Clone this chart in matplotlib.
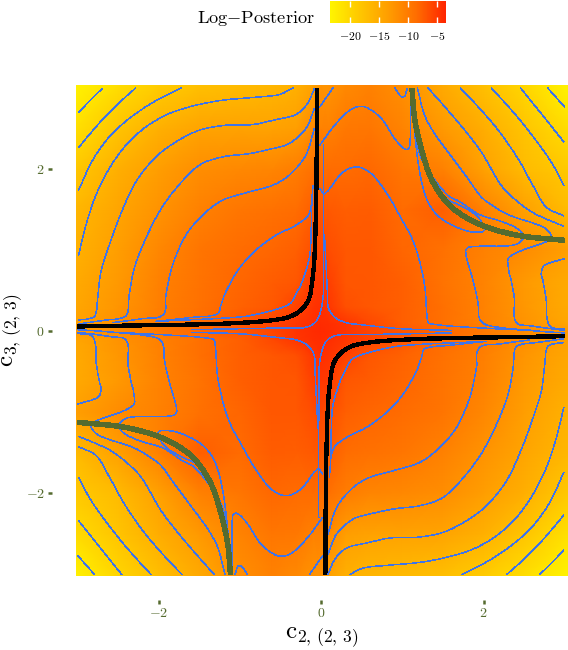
import numpy as np
import matplotlib
matplotlib.use("Agg")
import matplotlib.pyplot as plt
from matplotlib.colors import LinearSegmentedColormap, Normalize
from matplotlib.cm import ScalarMappable
from matplotlib.path import Path
from matplotlib.patches import PathPatch

plt.rcParams['mathtext.fontset'] = 'cm'
plt.rcParams['font.family'] = ['cmr10', 'DejaVu Serif']
plt.rcParams['axes.formatter.use_mathtext'] = True

# field values for y >= 0; the lower half is the same read by point symmetry
grid_x = [-3.05, -2.5, -2, -1.5, -1, -0.6, -0.3, -0.1, 0, 0.1, 0.3, 0.6, 1, 1.5, 2, 2.5, 3.05]
grid_y = [0, 0.1, 0.3, 0.6, 1, 1.5, 2, 2.5, 3.05]
row_0 = [-13, -11.5, -9.7, -8.2, -7, -5.8, -4.6, -4, -3.8, -4, -4.6, -5.8, -7, -8.2, -9.7, -11.5, -13]
row_01 = [-14, -12, -10, -8.6, -7, -5.6, -4.8, -4.2, -4, -4.2, -4.7, -6, -7.6, -8.9, -10.6, -12.4, -14.5]
row_03 = [-14.7, -12.6, -10.4, -9, -7.8, -7, -5.5, -4.6, -4.3, -4.8, -6.5, -7, -7.6, -8.9, -10.7, -12.8, -15]
row_06 = [-15, -13, -10.6, -9.2, -8, -7.4, -6.9, -5, -4.8, -5.4, -6.9, -7, -7.6, -9.2, -10.8, -13, -15]
row_10 = [-15.9, -13.5, -11.2, -9.4, -8.5, -8, -7.6, -6.5, -5.8, -6.3, -7, -7, -8, -9, -10.5, -11.7, -13.7]
row_15 = [-16.6, -14.3, -12.4, -10.5, -9.5, -9, -8.6, -7.5, -7, -7.2, -7.5, -7.4, -8.4, -7.5, -10.5, -13.7, -17]
row_20 = [-18.6, -15.5, -13.5, -11.9, -11.3, -10.9, -10.2, -9, -8.5, -8.5, -8.5, -8.2, -9.5, -10.5, -13.8, -16.9, -18.7]
row_25 = [-21.3, -18, -15.6, -14.2, -13.9, -14, -13.5, -11.5, -10.5, -10.5, -9.7, -9.5, -10.8, -13, -15.2, -18, -20.8]
row_30 = [-23.5, -21, -19, -17.7, -17, -16.5, -15.8, -14, -12.5, -12.5, -11.5, -10.7, -12, -15, -17.5, -20.2, -23.5]

# contour lines (x list, y list), each also drawn rotated by 180 degrees
contours = [
    ([-2.988, -2.857, -2.693], [2.70, 2.84, 3.0]),
    ([-2.988, -2.775, -2.529, -2.283], [2.267, 2.523, 2.782, 3.004]),
    ([-2.988, -2.816, -2.611, -2.365, -2.077, -1.725], [1.741, 2.111, 2.399, 2.626, 2.823, 3.004]),
    ([-2.988, -2.898, -2.775, -2.611, -2.406, -2.159, -1.872, -1.544, -1.216, -0.806, -0.518, -0.346],
     [0.938, 1.309, 1.679, 2.008, 2.296, 2.523, 2.687, 2.79, 2.852, 2.889, 2.922, 3.004]),
    ([-2.988, -2.857, -2.783, -2.754, -2.713, -2.611, -2.467, -2.283, -2.036, -1.790, -1.503, -1.175, -0.847, -0.559, -0.313, -0.170, -0.084],
     [0.140, 0.156, 0.198, 0.403, 0.733, 1.062, 1.453, 1.844, 2.152, 2.337, 2.481, 2.543, 2.551, 2.613, 2.675, 2.811, 2.996]),
    ([-2.988, -2.611, -2.488, -2.393, -2.365, -2.303, -2.180, -1.995, -1.790, -1.503, -1.216, -0.888, -0.600, -0.395, -0.190, -0.084],
     [0.091, 0.144, 0.156, 0.206, 0.444, 0.774, 1.103, 1.473, 1.761, 2.049, 2.152, 2.193, 2.255, 2.317, 2.502, 2.749]),
    ([-2.570, -2.2, -1.946, -1.913, -1.831, -1.667, -1.462, -1.216, -0.888, -0.600, -0.395, -0.190, -0.084],
     [0.107, 0.156, 0.206, 0.444, 0.815, 1.185, 1.432, 1.617, 1.720, 1.802, 1.926, 2.173, 2.502]),
    ([-2.036, -1.585, -1.277, -1.236, -1.175, -1.011, -0.806, -0.559, -0.313, -0.149, -0.100],
     [0.123, 0.173, 0.214, 0.321, 0.486, 0.774, 1.0, 1.185, 1.309, 1.453, 1.802]),
    # hugging the black curve
    ([-2.0, -1.003, -0.675, -0.388, -0.293, -0.244, -0.162, -0.133, -0.115],
     [0.125, 0.177, 0.239, 0.340, 0.494, 0.588, 0.835, 1.0, 1.6]),
    ([-1.6, -0.498, -0.252, -0.129, -0.047, 0.007, 0.027, 0.03],
     [0.02, 0.041, 0.041, 0.07, 0.144, 0.309, 0.494, 2.3]),
    # centre, upper right
    ([0.04, 0.076, 0.089, 0.179, 0.323, 0.487, 0.966, 1.6],
     [1.2, 0.494, 0.288, 0.165, 0.103, 0.082, 0.033, 0.012]),
    # top right quadrant
    ([2.79, 2.997], [3.004, 2.77]),
    ([2.455, 2.71, 2.989], [3.004, 2.687, 2.337]),
    ([2.094, 2.382, 2.628, 2.833, 2.989], [3.004, 2.687, 2.379, 2.09, 1.802]),
    ([1.713, 1.971, 2.197, 2.423, 2.607, 2.771, 2.989], [3.004, 2.73, 2.461, 2.132, 1.802, 1.535, 1.424]),
    ([1.315, 1.684, 1.972, 2.217, 2.423, 2.628, 2.989], [3.004, 2.584, 2.214, 1.802, 1.597, 1.453, 1.296]),
    ([1.184, 1.274, 1.397, 1.561, 1.807, 1.972, 2.136, 2.32, 2.73, 2.833, 2.81, 2.32, 2.31, 2.34, 2.38, 2.40, 2.59, 3.0],
     [3.004, 2.667, 2.440, 2.214, 1.885, 1.658, 1.535, 1.432, 1.288, 1.185, 1.124, 0.918, 0.753, 0.63, 0.403, 0.115, 0.066, 0.012]),
    ([1.12, 1.151, 1.233, 1.356, 1.561, 1.705, 1.951, 2.238, 2.444, 2.485, 2.36, 1.828, 1.779, 1.869, 1.93, 1.95, 2.05, 2.55, 3.0],
     [3.0, 2.461, 2.132, 1.926, 1.679, 1.6, 1.44, 1.35, 1.247, 1.144, 1.062, 1.041, 0.98, 0.63, 0.362, 0.156, 0.074, 0.012, -0.02]),
    ([3.0, 2.751, 2.71, 2.73, 2.77, 2.81, 2.997], [0.897, 0.815, 0.712, 0.63, 0.403, 0.074, 0.025]),
    ([1.12, 1.151, 1.213, 1.315, 1.479, 1.766, 1.972, 2.013, 1.91, 1.705, 1.55, 1.38, 1.26, 1.17, 1.13, 1.12],
     [3.0, 2.461, 1.967, 1.597, 1.391, 1.247, 1.226, 1.268, 1.432, 1.556, 1.63, 1.82, 2.1, 2.45, 2.8, 3.0]),
    # top middle
    ([-0.018, 0.146], [2.77, 3.004]),
    ([0.905, 1.007, 1.06], [3.004, 2.893, 2.996]),
    ([-0.018, 0.166, 0.371, 0.535, 0.741, 0.905, 1.036, 1.089, 1.1, 1.1],
     [2.296, 2.543, 2.741, 2.77, 2.626, 2.379, 2.247, 2.276, 2.79, 3.0]),
    ([-0.018, 0.043, 0.248, 0.433, 0.617, 0.823, 0.987, 1.11, 1.192, 1.274, 1.307, 1.335, 1.971, 2.6],
     [1.761, 1.7, 1.946, 2.029, 1.946, 1.679, 1.391, 1.165, 0.938, 0.568, 0.156, 0.095, 0.041, 0.012]),
]

black_x = [-3.0, -2.2, -1.298, -0.724, -0.436, -0.320, -0.231, -0.165, -0.129, -0.084, -0.059, -0.051]
black_y = [0.060, 0.074, 0.091, 0.123, 0.165, 0.212, 0.280, 0.370, 0.486, 0.897, 1.802, 3.0]
green_x = [1.118, 1.151, 1.233, 1.356, 1.561, 1.807, 2.094, 2.464, 3.0]
green_y = [3.0, 2.626, 2.255, 1.885, 1.576, 1.391, 1.267, 1.177, 1.123]

x_ticks = [-2, 0, 2]
y_ticks = [-2, 0, 2]
tick_labels = [r'$\mathsf{-2}$', r'$\mathsf{0}$', r'$\mathsf{2}$']
bar_ticks = [-20, -15, -10, -5]
bar_labels = [r'$\mathsf{-20}$', r'$\mathsf{-15}$', r'$\mathsf{-10}$', r'$\mathsf{-5}$']

W, H = 568, 650
fig = plt.figure(figsize=(W / 100, H / 100), dpi=100)
ax = fig.add_axes([76 / W, (H - 576) / H, (568 - 76) / W, (576 - 85) / H])

cmap = LinearSegmentedColormap.from_list('heat', ['#FFF500', '#FFC800', '#FF9E00', '#FF6C00', '#FF2400'])
norm = Normalize(-23.5, -3.45)

upper = np.array([row_0, row_01, row_03, row_06, row_10, row_15, row_20, row_25, row_30], dtype=float)
lower = upper[:0:-1, ::-1]
field = np.vstack([lower, upper])
gx = np.array(grid_x, dtype=float)
gy = np.concatenate([-np.array(grid_y[:0:-1], dtype=float), np.array(grid_y, dtype=float)])
ax.pcolormesh(gx, gy, field, cmap=cmap, norm=norm, shading='gouraud', rasterized=True, zorder=1)


def curve(px, py, color, width, z):
    """Draw a line through the read points, with rounded bends between them."""
    pts = np.column_stack([px, py])
    verts = [pts[0]]
    codes = [Path.MOVETO]
    n = len(pts)
    for i in range(n - 1):
        a, b = pts[i], pts[i + 1]
        seg = np.hypot(*(b - a))
        ta = pts[min(i + 1, n - 1)] - pts[max(i - 1, 0)]
        tb = pts[min(i + 2, n - 1)] - pts[i]
        ta = ta / max(np.hypot(*ta), 1e-9)
        tb = tb / max(np.hypot(*tb), 1e-9)
        verts += [a + ta * seg / 3, b - tb * seg / 3, b]
        codes += [Path.CURVE4] * 3
    ax.add_patch(PathPatch(Path(verts, codes), fill=False, edgecolor=color, lw=width, zorder=z,
                           capstyle='butt', joinstyle='round', antialiased=False))


BLUE = '#3F74E8'
for cx, cy in contours:
    cx, cy = np.array(cx), np.array(cy)
    curve(cx, cy, BLUE, 0.36, 2)
    curve(-cx, -cy, BLUE, 0.36, 2)

for sign in (1, -1):
    curve(sign * np.array(black_x), sign * np.array(black_y), 'black', 2.4, 3)
    curve(sign * np.array(green_x), sign * np.array(green_y), '#556B2F', 3.2, 3)

ax.set_xlim(-3.02, 3.04)
ax.set_ylim(-3.02, 3.04)
for s in ax.spines.values():
    s.set_visible(False)
ax.spines['bottom'].set_position(('outward', 17.3))
ax.spines['left'].set_position(('outward', 17.3))
ax.set_xticks(x_ticks, tick_labels)
ax.set_yticks(y_ticks, tick_labels)
ax.tick_params(axis='both', length=3.2, width=1.8, color='#556B2F', labelcolor='#556B2F',
               labelsize=10, pad=2)
ax.set_xlabel(r'$\mathrm{c}_{2,\,(2,\,3)}$', fontsize=18)
ax.set_ylabel(r'$\mathrm{c}_{3,\,(2,\,3)}$', fontsize=18)
ax.xaxis.set_label_coords(0.5, -0.101)
ax.yaxis.set_label_coords(-0.104, 0.5)

fig.text(256 / W, 1 - 19 / H, 'Log$-$Posterior', fontsize=13.2, ha='center', va='center', family='cmr10')

cax = fig.add_axes([330 / W, 1 - 23 / H, 116 / W, 22 / H])
cb = fig.colorbar(ScalarMappable(norm=norm, cmap=cmap), cax=cax, orientation='horizontal')
cb.outline.set_visible(False)
cb.set_ticks(bar_ticks, labels=bar_labels)
cax.tick_params(axis='x', direction='in', length=4, width=1, color='white', labelcolor='black',
                labelsize=8.5, pad=5, top=True)

fig.savefig('out.png', dpi=100)
